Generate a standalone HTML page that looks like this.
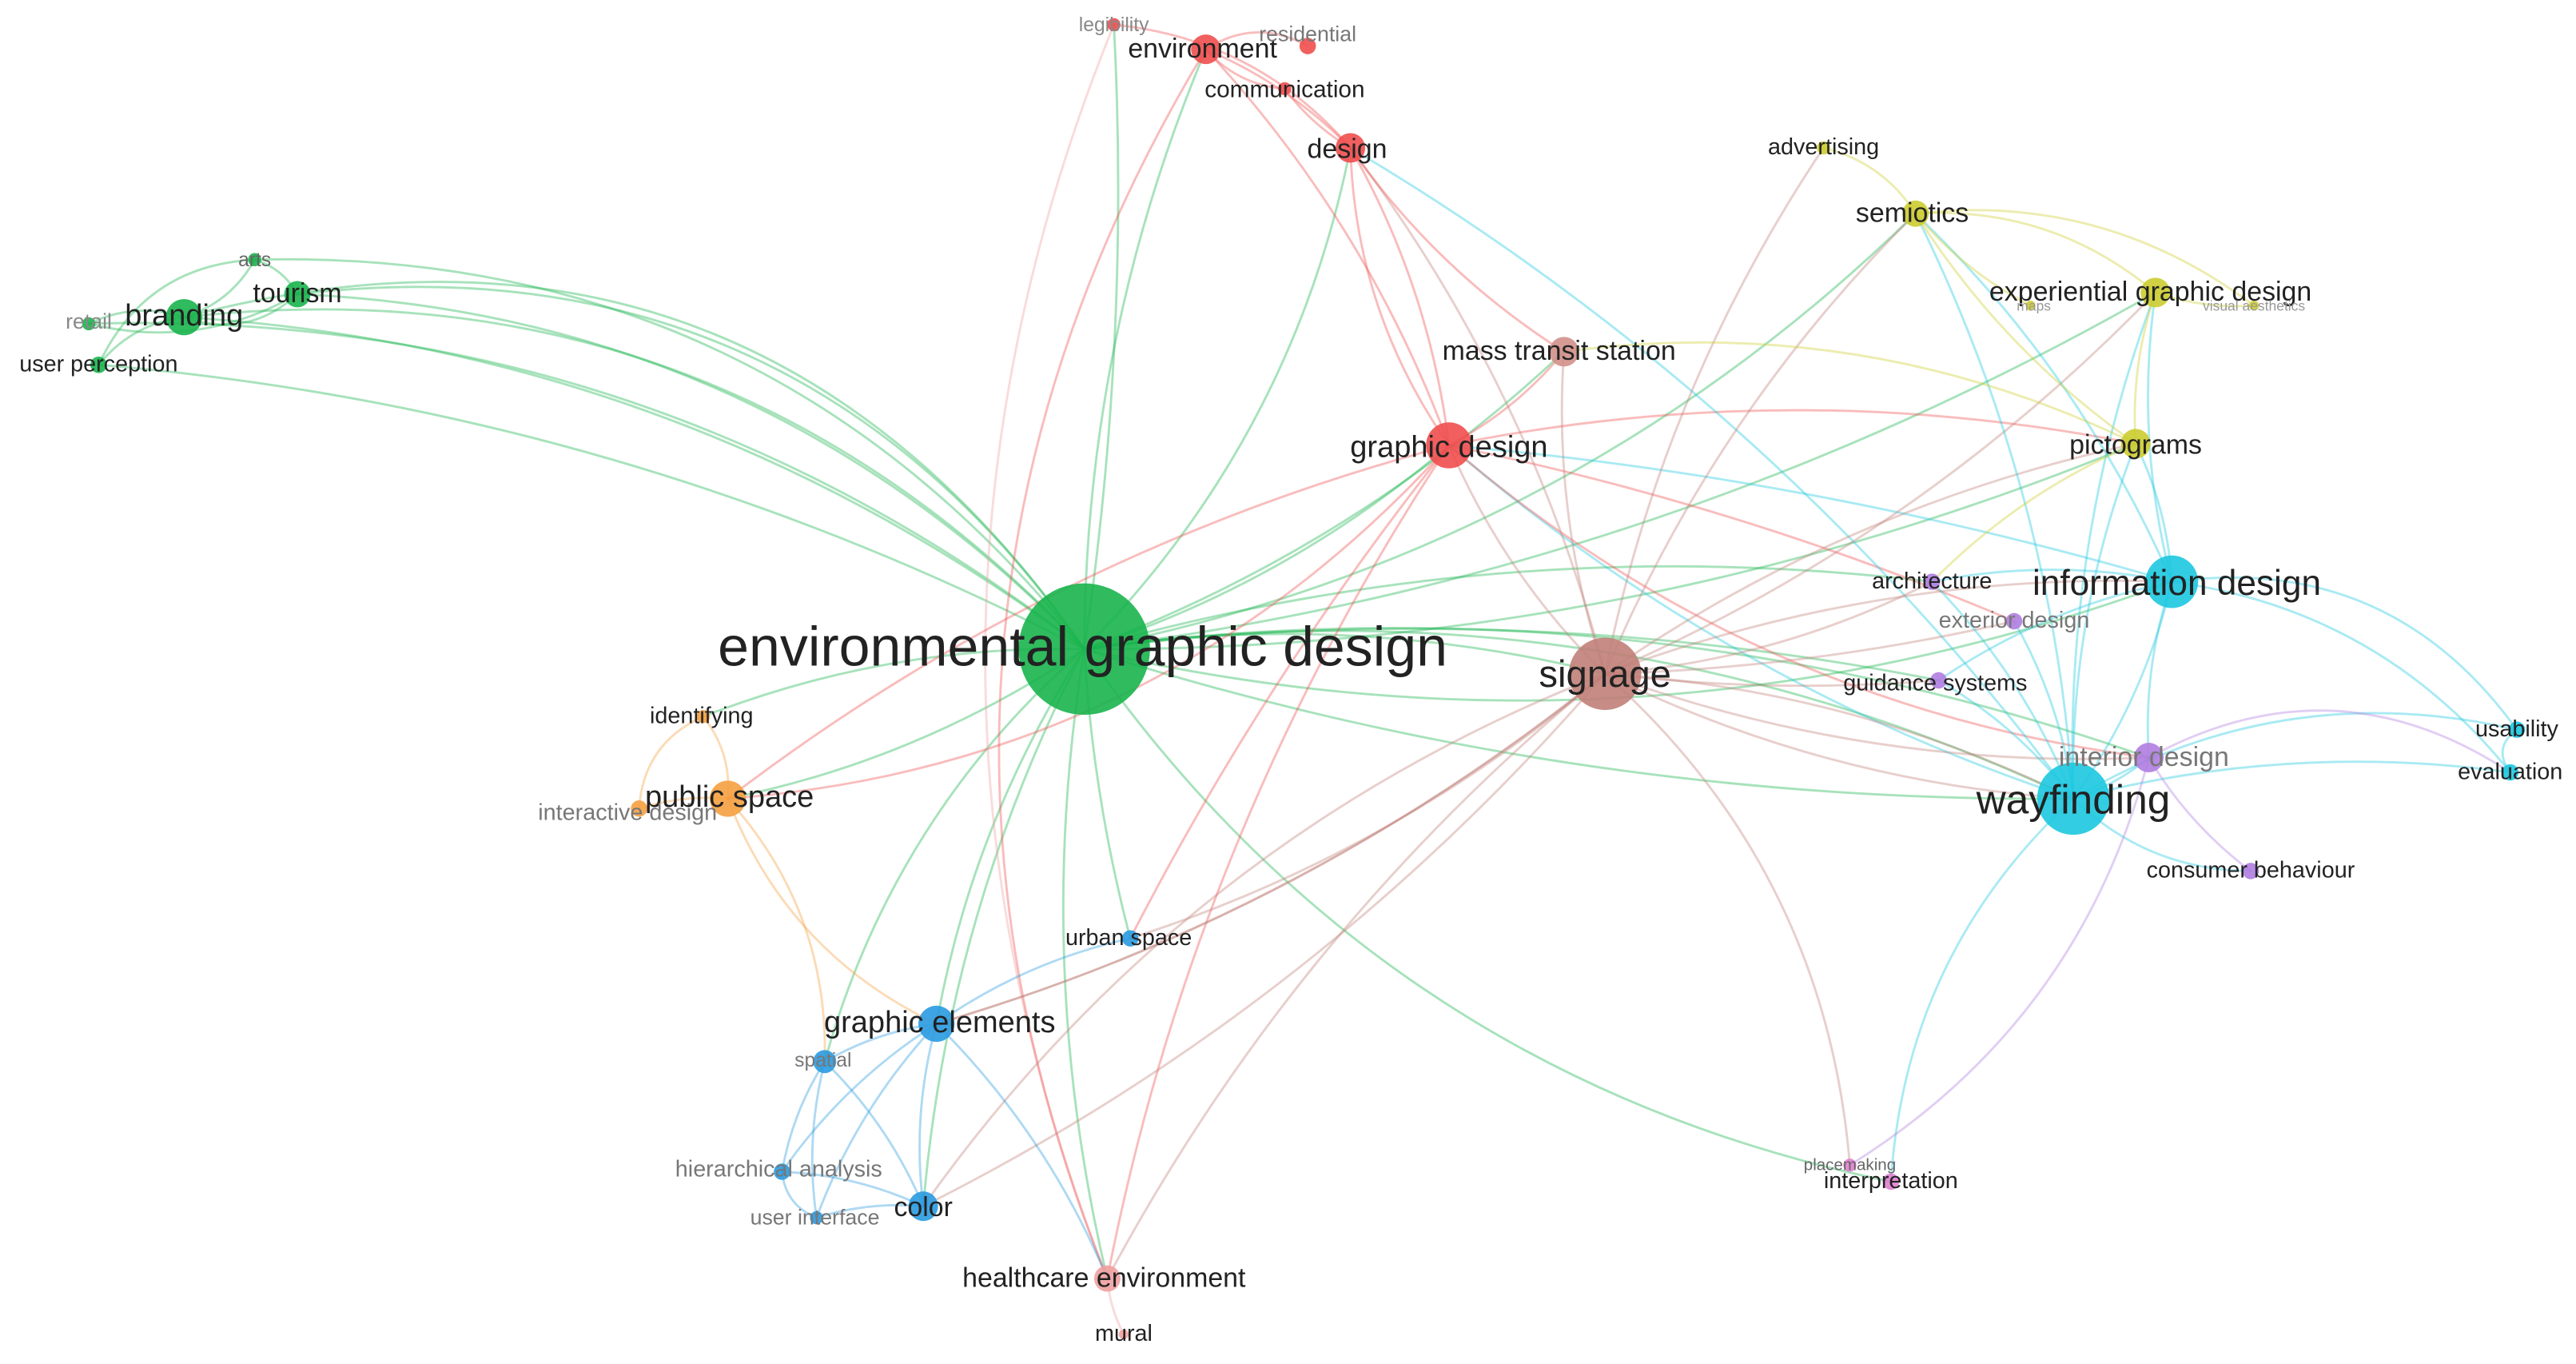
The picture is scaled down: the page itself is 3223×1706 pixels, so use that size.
<!DOCTYPE html>
<html><head><meta charset="utf-8">
<style>
html,body{margin:0;padding:0;background:#fff;}
svg{display:block;}
text{font-family:"Liberation Sans",sans-serif;fill:#222;}
</style></head>
<body>
<svg id="s" width="3223" height="1706" viewBox="0 0 1568 830" xmlns="http://www.w3.org/2000/svg">
<g id="edges" fill="none" stroke-linecap="round"></g>
<g id="nodes"></g>
<g id="labels" text-anchor="middle">
<text x="659" y="405" font-size="34">environmental graphic design</text>
<text x="977" y="418" font-size="23">signage</text>
<text x="1262" y="495" font-size="25">wayfinding</text>
<text x="1325" y="362" font-size="21.5">information design</text>
<text x="882" y="278" font-size="18.5">graphic design</text>
<text x="820" y="96" font-size="16.5">design</text>
<text x="732" y="35" font-size="16.5">environment</text>
<text x="782" y="59" font-size="14.5">communication</text>
<text x="796" y="25" font-size="13" style="fill:#777">residential</text>
<text x="678" y="19" font-size="12" style="fill:#888">legibility</text>
<text x="949" y="219" font-size="16.5">mass transit station</text>
<text x="1110" y="94" font-size="14">advertising</text>
<text x="1164" y="135" font-size="16.5">semiotics</text>
<text x="1309" y="183" font-size="16.5">experiential graphic design</text>
<text x="1238" y="189" font-size="8.5" style="fill:#999">maps</text>
<text x="1372" y="189" font-size="8.5" style="fill:#999">visual aesthetics</text>
<text x="1300" y="276" font-size="16.5">pictograms</text>
<text x="1176" y="358" font-size="14">architecture</text>
<text x="1226" y="382" font-size="14" style="fill:#777">exterior design</text>
<text x="1178" y="420" font-size="14">guidance systems</text>
<text x="1305" y="466" font-size="16.5" style="fill:#777">interior design</text>
<text x="1370" y="534" font-size="14">consumer behaviour</text>
<text x="1532" y="448" font-size="14">usability</text>
<text x="1528" y="474" font-size="14">evaluation</text>
<text x="112" y="198" font-size="18.5">branding</text>
<text x="181" y="184" font-size="16.5">tourism</text>
<text x="155" y="162" font-size="12" style="fill:#666">arts</text>
<text x="54" y="200" font-size="13" style="fill:#888">retail</text>
<text x="60" y="226" font-size="14">user perception</text>
<text x="427" y="440" font-size="14">identifying</text>
<text x="444" y="491" font-size="18.5">public space</text>
<text x="382" y="499" font-size="14" style="fill:#777">interactive design</text>
<text x="687" y="575" font-size="14">urban space</text>
<text x="572" y="628" font-size="18.5">graphic elements</text>
<text x="501" y="649" font-size="12" style="fill:#777">spatial</text>
<text x="474" y="716" font-size="14" style="fill:#777">hierarchical analysis</text>
<text x="496" y="745" font-size="13" style="fill:#777">user interface</text>
<text x="562" y="740" font-size="16.5">color</text>
<text x="672" y="783" font-size="16.5">healthcare environment</text>
<text x="684" y="816" font-size="14">mural</text>
<text x="1126" y="712" font-size="10" style="fill:#666">placemaking</text>
<text x="1151" y="723" font-size="14">interpretation</text>
</g>
</svg>
<script>
var G="#18b44c",R="#f04e4e",B="#2a9ae0",C="#1cc8e0",Y="#cccc30",P="#b07de0",O="#f5a040",BR="#c08078",PK="#f0a0a0",MG="#e080d0";
var N={
egd:[660,395,40,G],sig:[977,410,22,BR],way:[1262,486,22,C],inf:[1322,354,16,C],gd:[882,271,14,R],des:[822,90,9,R],env:[734,30,9,R],com:[782,54,4,R],res:[796,28,5,R],leg:[678,15,4,R],mts:[952,214,9,"#d09088"],adv:[1110,90,4,Y],sem:[1166,130,8,Y],exp:[1312,178,9,Y],map:[1236,186,3,Y],vis:[1372,186,3,Y],pic:[1300,270,9,Y],arc:[1176,354,5,P],ext:[1226,378,5,P],gui:[1180,414,5,P],int:[1308,461,9,P],con:[1370,530,5,P],usa:[1532,444,5,C],eva:[1528,470,5,C],bra:[112,193,11,G],tou:[181,179,8,G],art:[155,158,4,G],ret:[54,197,4,G],up:[60,222,5,G],ide:[428,436,4,O],ps:[443,486,11,O],ida:[389,492,5,O],us:[688,571,5,B],ge:[570,623,11,B],spa:[502,646,7,B],hie:[476,713,5,B],ui:[497,741,4,B],col:[562,734,9,B],hc:[674,778,8,PK],mur:[684,812,3,PK],pla:[1126,709,4,MG],itp:[1151,719,5,MG]};
var E=[["egd","bra",.25],["egd","bra",.15],["egd","bra",.35],["egd","tou",.2],["egd","tou",.3],["egd","art",.25],["egd","up",.1],["egd","ret",.18],["egd","gd",.1],["egd","des",.15],["egd","env",-.1],["egd","leg",.05],["egd","mts",.1],["egd","sem",.15],["egd","exp",.1],["egd","pic",.1],["egd","inf",.15],["egd","sig",-.1],["egd","way",-.15],["egd","arc",-.1],["egd","gui",-.08],["egd","ps",-.1],["egd","ide",.1],["egd","ge",.1],["egd","spa",.15],["egd","col",.1],["egd","us",.05],["egd","hc",.1],["egd","itp",.2],["egd","int",-.12],["egd","way",.08],
["gd","des",.1],["gd","env",.1],["gd","sig",.1],["gd","way",.1],["gd","inf",-.05],["gd","hc",.1],["gd","us",.05],["gd","ps",-.2],["gd","int",.15],["gd","pic",-.1],["gd","mts",.1],["gd","ext",-.05],["gd","des",-.15],
["des","sig",-.1],["des","mts",.1],["des","way",-.1],["des","env",.1],["env","com",.2],["env","res",-.3],["com","des",.1],["leg","des",-.2],["leg","hc",.2],["env","hc",.25],
["sig","way",.1],["sig","inf",-.1],["sig","pic",-.1],["sig","sem",-.1],["sig","exp",.1],["sig","arc",.1],["sig","int",.1],["sig","gui",.05],["sig","ext",.05],["sig","col",-.1],["sig","ge",-.1],["sig","pla",-.2],["sig","hc",.1],["sig","mts",-.1],["sig","way",-.1],
["way","inf",.1],["way","pic",-.1],["way","sem",.1],["way","exp",-.1],["way","int",.1],["way","con",.2],["way","usa",-.2],["way","eva",-.1],["way","itp",.2],["way","ext",.1],["way","arc",.1],["way","gui",.1],
["inf","usa",-.3],["inf","eva",-.2],["inf","pic",.1],["inf","exp",-.1],["inf","sem",.1],["inf","int",.1],["inf","gui",.1],["inf","arc",.1],
["sem","adv",.2],["sem","exp",-.2],["sem","pic",.1],["sem","map",.1],["sem","vis",-.2],["adv","sig",.1],["exp","pic",.1],["exp","vis",.1],["pic","mts",.15],["pic","arc",.1],["int","con",.1],["int","pla",-.2],["usa","eva",.5],["int","eva",-.3],
["ge","spa",.1],["ge","col",.1],["ge","hie",.1],["ge","ui",.1],["ge","us",-.1],["ge","sig",.1],["spa","hie",.1],["spa","ui",.1],["spa","col",-.1],["hie","ui",.3],["col","sig",-.15],["col","ui",.1],["us","sig",.1],["col","hie",.1],["hc","mur",.1],["hc","ge",.1],
["ps","ide",.2],["ps","ida",.1],["ps","spa",-.2],["ps","ge",.2],["ide","ida",.3],["ps","gd",-.1],
["bra","art",.2],["bra","tou",.3],["bra","ret",.2],["bra","up",.2],["tou","art",.2],["art","up",.3],["tou","ret",-.2]];
var ns="http://www.w3.org/2000/svg",eg=document.getElementById("edges"),ng=document.getElementById("nodes");
E.forEach(function(e){var a=N[e[0]],b=N[e[1]];if(!a||!b)return;var dx=b[0]-a[0],dy=b[1]-a[1],k=e[2];
var cx=(a[0]+b[0])/2-dy*k,cy=(a[1]+b[1])/2+dx*k;var p=document.createElementNS(ns,"path");
p.setAttribute("d","M"+a[0]+","+a[1]+" Q"+cx+","+cy+" "+b[0]+","+b[1]);p.setAttribute("stroke",a[2]>=b[2]?a[3]:b[3]);
p.setAttribute("stroke-opacity",".38");p.setAttribute("stroke-width","1.4");eg.appendChild(p);});
for(var k in N){var n=N[k],c=document.createElementNS(ns,"circle");c.setAttribute("cx",n[0]);c.setAttribute("cy",n[1]);c.setAttribute("r",n[2]);c.setAttribute("fill",n[3]);c.setAttribute("fill-opacity",".9");ng.appendChild(c);}
</script>
</body></html>
